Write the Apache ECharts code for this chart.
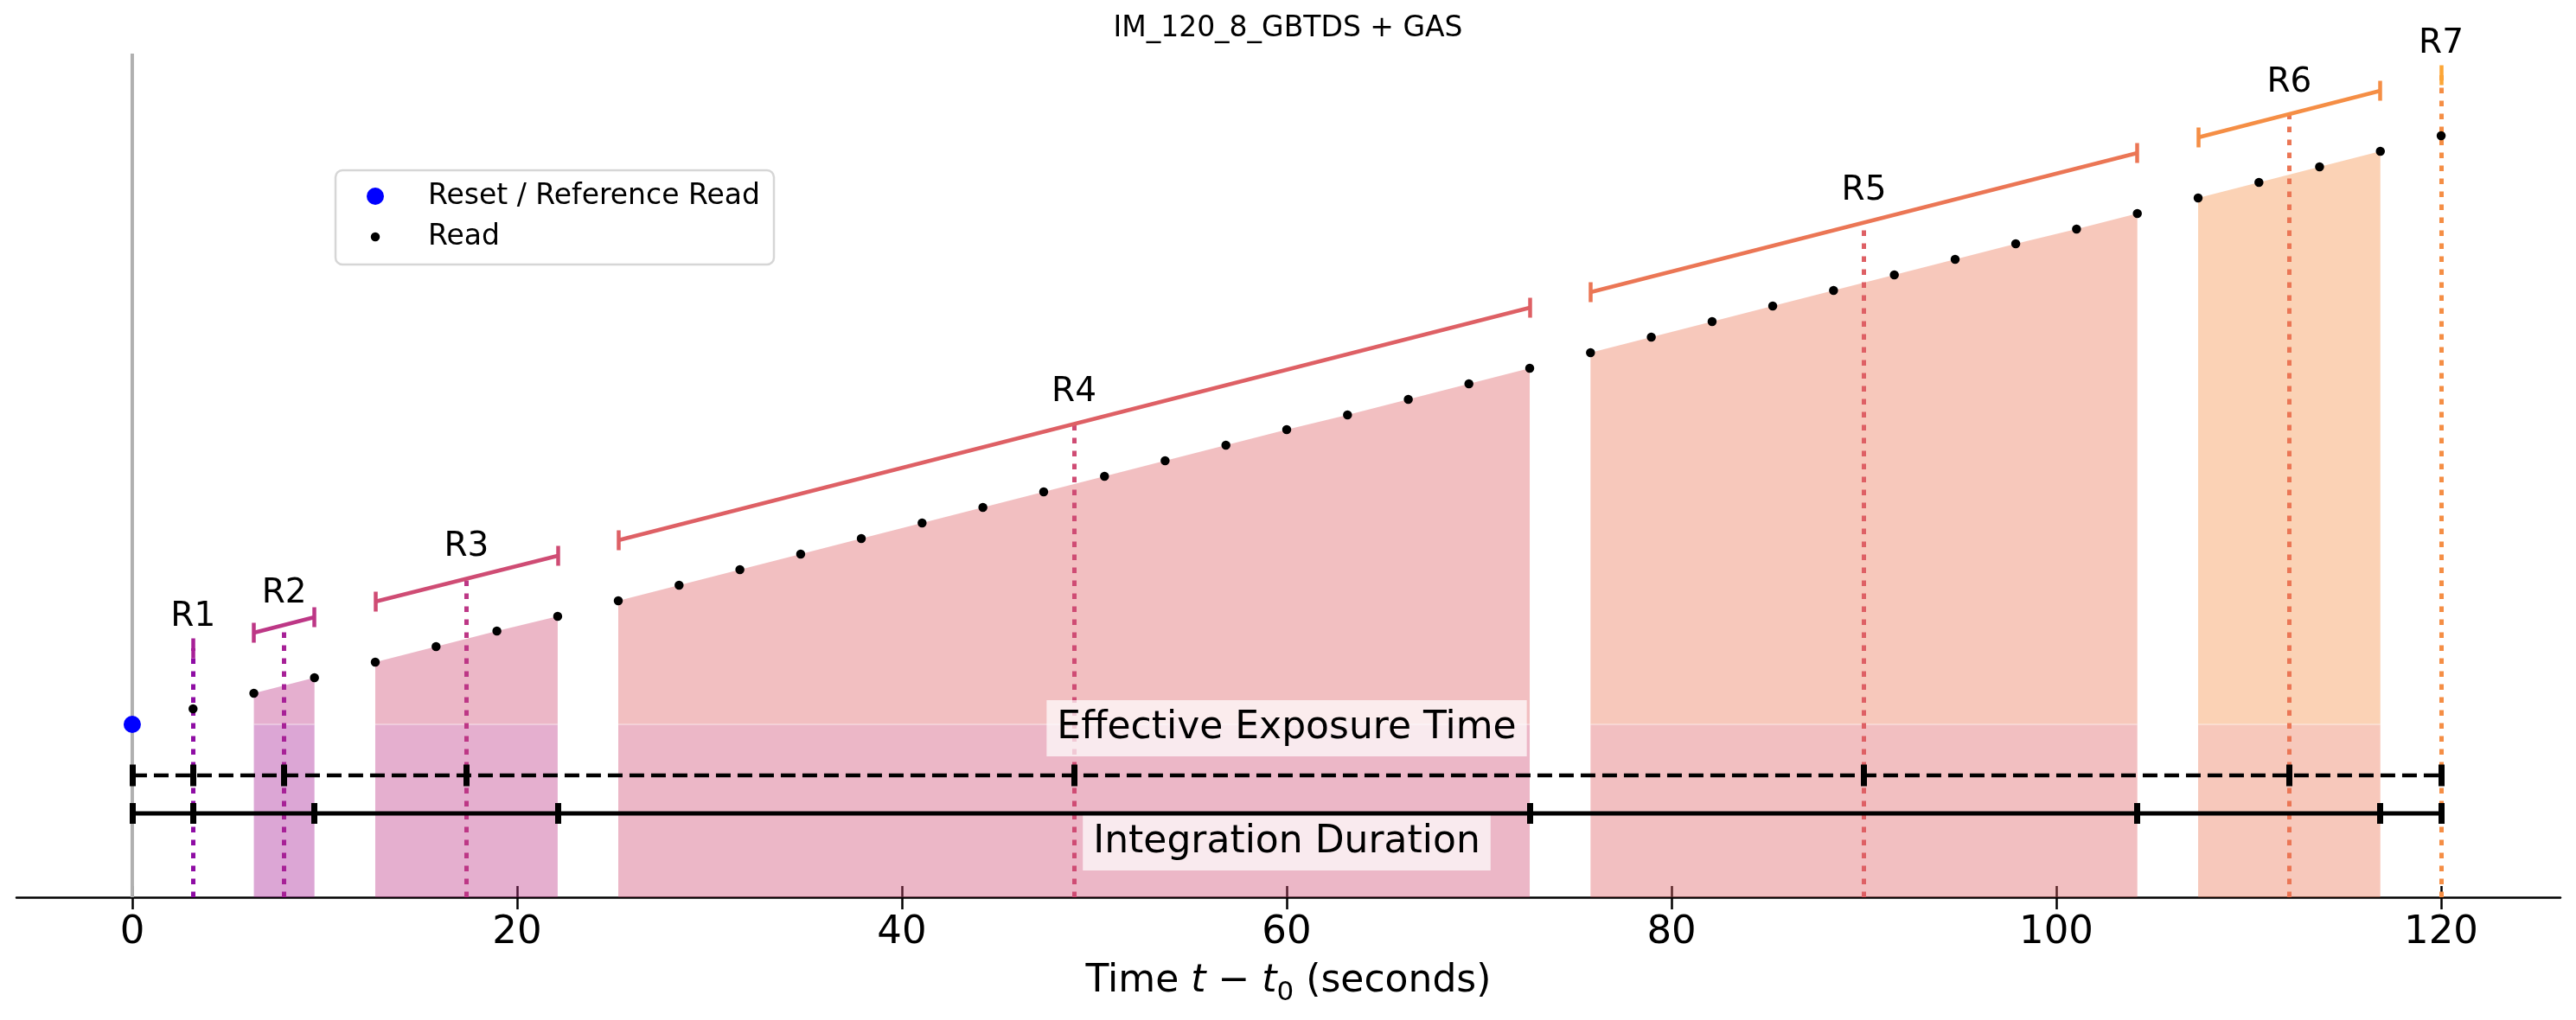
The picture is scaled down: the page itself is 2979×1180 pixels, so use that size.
<!DOCTYPE html>
<html>
<head>
<meta charset="utf-8">
<title>IM_120_8_GBTDS + GAS</title>
<script src="https://cdn.jsdelivr.net/npm/echarts@6/dist/echarts.min.js"></script>
<style>
  html, body { margin: 0; padding: 0; background: #fff; }
  #chart { width: 2979px; height: 1180px; }
</style>
</head>
<body>
<div id="chart"></div>
<script>
// ---- data ----
const resetTime = 0;
const resetSignal = 20.0;

// read times (seconds) and accumulated signal of every read after the reset
const readTimes = [3.16, 6.32, 9.47, 12.63, 15.79, 18.95, 22.11, 25.26, 28.42, 31.58,
  34.74, 37.89, 41.05, 44.21, 47.37, 50.53, 53.68, 56.84, 60.00, 63.16,
  66.32, 69.47, 72.63, 75.79, 78.95, 82.11, 85.26, 88.42, 91.58, 94.74,
  97.89, 101.05, 104.21, 107.37, 110.53, 113.68, 116.84, 120.00];
const readSignal = [21.8, 23.6, 25.4, 27.2, 29.0, 30.8, 32.5, 34.3, 36.1, 37.9,
  39.7, 41.5, 43.3, 45.1, 46.9, 48.7, 50.5, 52.3, 54.1, 55.8,
  57.6, 59.4, 61.2, 63.0, 64.8, 66.6, 68.4, 70.2, 72.0, 73.8,
  75.6, 77.3, 79.1, 80.9, 82.7, 84.5, 86.3, 88.1];

// resultants: how many consecutive reads each one averages
const resultantNames = ['R1', 'R2', 'R3', 'R4', 'R5', 'R6', 'R7'];
const readsPerResultant = [1, 2, 4, 16, 10, 4, 1];

const xTicks = [0, 20, 40, 60, 80, 100, 120];

// ---- look ----
// plasma samples; dotted lines and lower fills use the previous colour
const palette = ['#8f0da4', '#a72197', '#bd3786', '#cf4c74', '#de6065', '#eb7655', '#f58e45', '#fca636'];
const FONT = 'DejaVu Sans';
const X_MIN = -6.02, X_MAX = 126.2, Y_MAX = 97.6;
const BRACKET_GAP = 7.0;   // bracket sits above the reads
const EFF_LEVEL = 14.1;    // dashed "effective exposure" bar
const INT_LEVEL = 9.7;     // solid "integration duration" bar

// group reads into resultants
const groups = [];
let k = 0;
readsPerResultant.forEach((n, i) => {
  const t = readTimes.slice(k, k + n);
  const s = readSignal.slice(k, k + n);
  k += n;
  const mean = t.reduce((a, b) => a + b, 0) / n;
  groups.push({ name: resultantNames[i], t, s, mean, top: (s[0] + s[n - 1]) / 2 + BRACKET_GAP });
});
const tEnd = readTimes[readTimes.length - 1];

const series = [];

// shaded areas under each resultant
const seams = [];
groups.forEach((g, i) => {
  const n = g.t.length;
  if (n < 2) return;
  series.push({
    type: 'line', silent: true, z: 1, symbol: 'none',
    data: [[g.t[0], resetSignal], [g.t[n - 1], resetSignal]],
    lineStyle: { opacity: 0 },
    areaStyle: { color: palette[i], opacity: 0.4, origin: 0 }
  });
  series.push({
    type: 'line', silent: true, z: 1, symbol: 'none',
    data: g.t.map((t, j) => [t, g.s[j]]),
    lineStyle: { opacity: 0 },
    areaStyle: { color: palette[i + 1], opacity: 0.4, origin: resetSignal }
  });
  seams.push({ coords: [[g.t[0], resetSignal], [g.t[n - 1], resetSignal]] });
});
// faint light edge where the two shades meet
series.push({
  type: 'lines', coordinateSystem: 'cartesian2d', silent: true, z: 1,
  lineStyle: { color: '#ffffff', width: 1.5, opacity: 0.45 },
  data: seams
});

// t = 0 marker line
series.push({
  type: 'line', silent: true, z: 2, symbol: 'none',
  data: [[resetTime, 0], [resetTime, Y_MAX]],
  lineStyle: { color: '#b0b0b0', width: 4 }
});

// dotted lines at each resultant's mean time
series.push({
  type: 'lines', coordinateSystem: 'cartesian2d', silent: true, z: 3,
  lineStyle: { width: 5, type: [6.5, 8.5], opacity: 1, cap: 'butt' },
  data: groups.map((g, i) => ({ coords: [[g.mean, 0], [g.mean, g.top]], lineStyle: { color: palette[i] } }))
});

// brackets spanning the reads of each resultant
const CAP = 1.15;
const bracketData = [];
groups.forEach((g, i) => {
  const c = palette[i + 1];
  const n = g.t.length;
  const a = [g.t[0], g.s[0] + BRACKET_GAP];
  const b = [g.t[n - 1], g.s[n - 1] + BRACKET_GAP];
  if (n > 1) bracketData.push({ coords: [a, b], lineStyle: { color: c } });
  bracketData.push({ coords: [[a[0], a[1] - CAP], [a[0], a[1] + CAP]], lineStyle: { color: c } });
  if (n > 1) bracketData.push({ coords: [[b[0], b[1] - CAP], [b[0], b[1] + CAP]], lineStyle: { color: c } });
});
series.push({
  type: 'lines', coordinateSystem: 'cartesian2d', silent: true, z: 4,
  lineStyle: { width: 4.5, opacity: 1 },
  data: bracketData
});

// effective exposure (dashed) and integration duration (solid) bars
const effCaps = [resetTime].concat(groups.map(g => g.mean));
const intCaps = [resetTime].concat(groups.map(g => g.t[g.t.length - 1]));
series.push({
  type: 'line', silent: true, z: 7, symbol: 'none',
  data: [[resetTime, EFF_LEVEL], [tEnd, EFF_LEVEL]],
  lineStyle: { color: '#000', width: 4.5, type: [17, 8] }
});
series.push({
  type: 'line', silent: true, z: 7, symbol: 'none',
  data: [[resetTime, INT_LEVEL], [tEnd, INT_LEVEL]],
  lineStyle: { color: '#000', width: 5 }
});
series.push({
  type: 'lines', coordinateSystem: 'cartesian2d', silent: true, z: 7,
  lineStyle: { width: 7, color: '#000', opacity: 1 },
  data: effCaps.map(t => ({ coords: [[t, EFF_LEVEL - 1.25], [t, EFF_LEVEL + 1.25]] }))
    .concat(intCaps.map(t => ({ coords: [[t, INT_LEVEL - 1.2], [t, INT_LEVEL + 1.2]] })))
});

// text boxes for the two bars
const boxLabel = {
  show: true, position: 'inside', fontFamily: FONT, fontSize: 44, lineHeight: 52,
  color: '#000', opacity: 1, backgroundColor: 'rgba(255,255,255,0.7)', padding: [4, 12, 9, 12],
  formatter: '{b}'
};
series.push({
  type: 'scatter', silent: true, z: 6, symbolSize: 0,
  itemStyle: { color: 'transparent', opacity: 1 },
  label: boxLabel,
  data: [
    { name: 'Effective Exposure Time', value: [(resetTime + tEnd) / 2, 19.55] },
    { name: 'Integration Duration', value: [(resetTime + tEnd) / 2, 6.35] }
  ]
});

// resultant names above the brackets
series.push({
  type: 'scatter', silent: true, z: 8, symbolSize: 0,
  itemStyle: { color: 'transparent', opacity: 1 },
  label: { show: true, position: 'top', distance: 13.5, formatter: '{b}',
    fontFamily: FONT, fontSize: 39, lineHeight: 46, color: '#000', opacity: 1 },
  data: groups.map(g => ({ name: g.name, value: [g.mean, g.top] }))
});

// the reads themselves
series.push({
  name: 'Read', type: 'scatter', z: 9, symbol: 'circle', symbolSize: 10.5,
  itemStyle: { color: '#000', opacity: 1 },
  data: readTimes.map((t, i) => [t, readSignal[i]])
});
series.push({
  name: 'Reset / Reference Read', type: 'scatter', z: 10, symbol: 'circle', symbolSize: 20,
  itemStyle: { color: '#0000ff', opacity: 1 },
  data: [[resetTime, resetSignal]]
});

// legend layout keys off the icon's own box, so shift by half the icon
const legendCommon = {
  orient: 'vertical', padding: 0, itemWidth: 112, selectedMode: false,
  icon: 'circle',
  textStyle: { fontFamily: FONT, fontSize: 33, color: '#000', lineHeight: 40 }
};

const chart = echarts.init(document.getElementById('chart'), null, { renderer: 'canvas' });
chart.setOption({
  animation: false,
  backgroundColor: '#fff',
  title: {
    text: 'IM_120_8_GBTDS + GAS', left: 'center', top: 13, padding: 0,
    textStyle: { fontFamily: FONT, fontSize: 33, fontWeight: 'normal', color: '#000', lineHeight: 40 }
  },
  graphic: [{
    type: 'rect', z: 0,
    shape: { x: 388, y: 197, width: 507, height: 109, r: 8 },
    style: { fill: 'rgba(255,255,255,0.8)', stroke: '#d6d6d6', lineWidth: 2.5 }
  }],
  legend: [
    Object.assign({}, legendCommon, { left: 424, top: 207, itemHeight: 20, data: ['Reset / Reference Read'] }),
    Object.assign({}, legendCommon, { left: 428.75, top: 254, itemHeight: 10.5, data: ['Read'] })
  ],
  grid: { left: 19, right: 18, top: 62, bottom: 142 },
  xAxis: [{
    type: 'value', min: X_MIN, max: X_MAX, position: 'bottom',
    axisLine: { show: true, onZero: false, lineStyle: { color: '#000', width: 2.5 } },
    axisTick: { show: true, inside: false, length: 14, customValues: xTicks, lineStyle: { color: '#000', width: 2.5 } },
    axisLabel: { show: true, customValues: xTicks, margin: 16, fontFamily: FONT, fontSize: 45, lineHeight: 50, color: '#000' },
    splitLine: { show: false },
    name: '{n|Time }{i|t − t}{s|0}{n| (seconds)}',
    nameLocation: 'middle', nameGap: 70,
    nameTextStyle: {
      rich: {
        n: { fontFamily: FONT, fontSize: 44, lineHeight: 56, color: '#000' },
        i: { fontFamily: FONT, fontSize: 44, lineHeight: 56, fontStyle: 'italic', color: '#000' },
        s: { fontFamily: FONT, fontSize: 31, lineHeight: 44, verticalAlign: 'bottom', color: '#000' }
      }
    }
  }, {
    type: 'value', min: X_MIN, max: X_MAX, position: 'bottom', offset: 0,
    axisLine: { show: false },
    axisTick: { show: true, inside: true, length: 13, customValues: xTicks, lineStyle: { color: '#000', width: 2.5 } },
    axisLabel: { show: false },
    splitLine: { show: false }
  }],
  yAxis: { type: 'value', min: 0, max: Y_MAX, show: false, splitLine: { show: false } },
  series: series
});
</script>
</body>
</html>
